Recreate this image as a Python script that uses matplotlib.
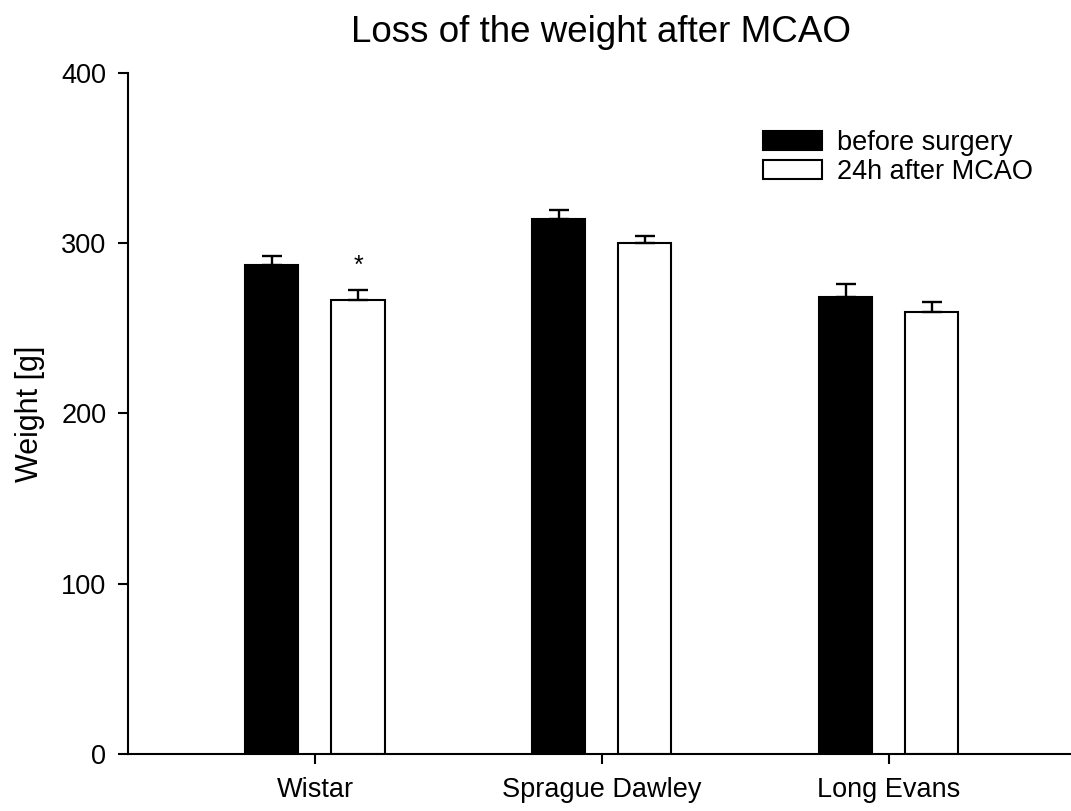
import numpy as np
import matplotlib.pyplot as plt

plt.rcParams['font.family'] = ['Liberation Sans', 'DejaVu Sans']

strains = ["Wistar", "Sprague Dawley", "Long Evans"]
before = [287.5, 314.0, 268.5]
before_err = [5.2, 5.4, 7.5]
after = [266.5, 300.3, 259.5]
after_err = [6.0, 3.8, 5.7]

fig = plt.figure(figsize=(10.71, 8.11), dpi=100)
ax = fig.add_axes([0.1195, 0.0703, 0.88, 0.8397])

x = np.arange(1, len(strains) + 1)
w = 0.185
off = 0.15

ekw = dict(elinewidth=1.7, capthick=1.7, ecolor="black")
ax.bar(x - off, before, w, color="black", edgecolor="black", linewidth=1.5,
       yerr=[np.zeros(3), before_err], capsize=7.5, error_kw=ekw,
       label="before surgery")
ax.bar(x + off, after, w, color="white", edgecolor="black", linewidth=1.5,
       yerr=[np.zeros(3), after_err], capsize=7.5, error_kw=ekw,
       label="24h after MCAO")

# significance marker
ax.text(x[0] + off, after[0] + after_err[0] + 7, "*", ha="center", va="bottom", fontsize=18)

ax.set_ylim(0, 400)
ax.set_xlim(0.348, 3.634)
ax.set_yticks([0, 100, 200, 300, 400])
ax.set_xticks(x)
ax.set_xticklabels(strains)
ax.tick_params(axis="both", direction="out", length=7.5, width=1.5, labelsize=19.5)
ax.tick_params(axis="x", pad=9)
ax.tick_params(axis="y", pad=8)
ax.spines["top"].set_visible(False)
ax.spines["right"].set_visible(False)
ax.spines["left"].set_linewidth(1.5)
ax.spines["bottom"].set_linewidth(1.5)

ax.set_ylabel("Weight [g]", fontsize=22, labelpad=12)
fig.text(0.561, 1 - 41.7 / 811, "Loss of the weight after MCAO", fontsize=26.5,
         ha="center", va="baseline")

fig.legend(loc="upper left", bbox_to_anchor=(0.712, 0.840), frameon=False,
           fontsize=19.5, handlelength=2.2, handleheight=0.72, labelspacing=0.13,
           handletextpad=0.55, borderpad=0, borderaxespad=0)

fig.savefig("out.png", dpi=100)
